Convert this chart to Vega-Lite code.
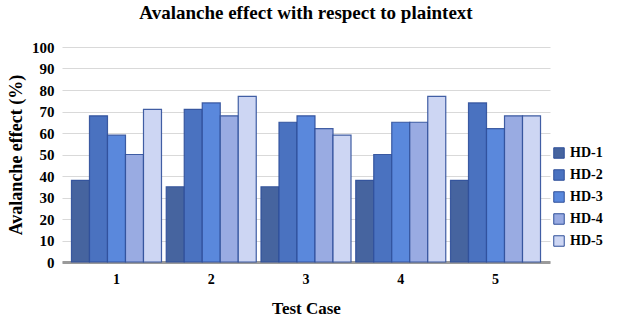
{
  "$schema": "https://vega.github.io/schema/vega-lite/v6.json",
  "width": 488,
  "height": 215,
  "autosize": "none",
  "padding": {"left": 62, "top": 47, "right": 77, "bottom": 66},
  "background": "white",
  "title": {"text": "Avalanche effect with respect to plaintext", "font": "Liberation Serif", "fontSize": 19, "fontWeight": "bold", "color": "#000000", "anchor": "middle", "offset": 17},
  "data": {"values": [
    {"case": "1", "series": "HD-1", "value": 38},
    {"case": "1", "series": "HD-2", "value": 68},
    {"case": "1", "series": "HD-3", "value": 59},
    {"case": "1", "series": "HD-4", "value": 50},
    {"case": "1", "series": "HD-5", "value": 71},
    {"case": "2", "series": "HD-1", "value": 35},
    {"case": "2", "series": "HD-2", "value": 71},
    {"case": "2", "series": "HD-3", "value": 74},
    {"case": "2", "series": "HD-4", "value": 68},
    {"case": "2", "series": "HD-5", "value": 77},
    {"case": "3", "series": "HD-1", "value": 35},
    {"case": "3", "series": "HD-2", "value": 65},
    {"case": "3", "series": "HD-3", "value": 68},
    {"case": "3", "series": "HD-4", "value": 62},
    {"case": "3", "series": "HD-5", "value": 59},
    {"case": "4", "series": "HD-1", "value": 38},
    {"case": "4", "series": "HD-2", "value": 50},
    {"case": "4", "series": "HD-3", "value": 65},
    {"case": "4", "series": "HD-4", "value": 65},
    {"case": "4", "series": "HD-5", "value": 77},
    {"case": "5", "series": "HD-1", "value": 38},
    {"case": "5", "series": "HD-2", "value": 74},
    {"case": "5", "series": "HD-3", "value": 62},
    {"case": "5", "series": "HD-4", "value": 68},
    {"case": "5", "series": "HD-5", "value": 68}
  ]},
  "mark": {"type": "bar", "stroke": "#2f4f9a", "strokeWidth": 1.2, "strokeOpacity": 0.9},
  "encoding": {
    "x": {"field": "case", "type": "nominal",
      "scale": {"paddingInner": 0.05, "paddingOuter": 0.1},
      "axis": {"title": "Test Case", "labelAngle": 0, "labelFont": "Liberation Serif", "labelFontSize": 14, "labelFontWeight": "bold", "labelColor": "#000000", "labelPadding": 10,
        "titleFont": "Liberation Serif", "titleFontSize": 17, "titleFontWeight": "bold", "titleColor": "#000000", "titlePadding": 14,
        "ticks": false, "domainColor": "#9a9a9a", "domainWidth": 3}},
    "xOffset": {"field": "series", "type": "nominal", "scale": {"paddingInner": 0, "paddingOuter": 0}},
    "y": {"field": "value", "type": "quantitative",
      "scale": {"domain": [0, 100]},
      "axis": {"title": "Avalanche effect (%)", "values": [0,10,20,30,40,50,60,70,80,90,100], "labelOverlap": false, "labelFont": "Liberation Serif", "labelFontSize": 15, "labelFontWeight": "bold", "labelColor": "#000000", "labelPadding": 8,
        "titleFont": "Liberation Serif", "titleFontSize": 18, "titleFontWeight": "bold", "titleColor": "#000000", "titlePadding": 6,
        "domain": false, "ticks": false, "gridColor": "#d9d9d9", "gridWidth": 1.2}},
    "color": {"field": "series", "type": "nominal",
      "scale": {"domain": ["HD-1", "HD-2", "HD-3", "HD-4", "HD-5"], "range": ["#46649f", "#4a72c0", "#5a88dc", "#99abe2", "#cdd6f3"]},
      "legend": {"title": null, "orient": "none", "legendX": 490, "legendY": 99, "symbolType": "square", "symbolSize": 110, "symbolStrokeColor": "#2f4f9a", "symbolStrokeWidth": 1,
        "labelFont": "Liberation Serif", "labelFontSize": 14, "labelFontWeight": "bold", "labelColor": "#000000", "rowPadding": 6, "padding": 0}}
  },
  "config": {"view": {"stroke": null}}
}
